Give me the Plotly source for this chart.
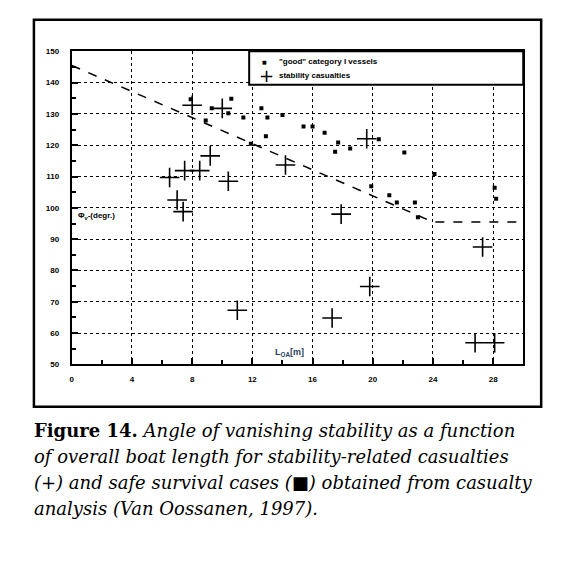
import plotly.graph_objects as go

# Angle of vanishing stability vs overall length
casualty_len = [6.5, 7.0, 7.4, 7.5, 8.0, 8.5, 9.2, 10.0, 10.4, 11.0, 14.2,
                17.3, 17.9, 19.6, 19.8, 26.8, 27.3, 28.1]
casualty_avs = [109.7, 102.5, 98.8, 111.9, 132.8, 111.9, 116.6, 131.8, 108.5,
                67.3, 113.7, 64.8, 98.0, 122.1, 74.9, 56.9, 87.5, 56.9]

good_len = [7.9, 8.9, 9.3, 10.4, 10.6, 11.4, 11.9, 12.6, 12.9, 13.0, 14.0,
            15.4, 16.0, 16.8, 17.5, 17.7, 18.5, 19.9, 20.4, 21.1, 21.6, 22.1,
            22.8, 23.0, 24.1, 28.1, 28.2]
good_avs = [134.7, 127.9, 131.8, 130.2, 134.9, 128.9, 120.5, 131.8, 122.9,
            128.9, 129.7, 126.0, 126.0, 124.0, 117.9, 120.9, 119.0, 106.9,
            121.9, 104.0, 101.7, 117.7, 101.7, 97.0, 110.8, 106.4, 102.9]

limit_len = [0, 24, 30]
limit_avs = [145.5, 95.5, 95.5]

x_ticks = [0, 4, 8, 12, 16, 20, 24, 28]
y_ticks = [50, 60, 70, 80, 90, 100, 110, 120, 130, 140, 150]

legend_labels = ['"good" category I vessels', "stability casualties"]

caption_lines = [
    "<b>Figure 14.</b> <i>Angle of vanishing stability as a function</i>",
    "<i>of overall boat length for stability-related casualties</i>",
    "<i>(+) and safe survival cases (■) obtained from casualty</i>",
    "<i>analysis (Van Oossanen, 1997).</i>",
]

W, H = 582, 573
OFF = 8  # page body margin of the browser


def px(v):
    return (v - OFF) / W


def py(v):
    return 1 - (v - OFF) / H


tick_font = dict(family="Liberation Sans", size=8, color="black", weight="bold")
small_bold = dict(family="Liberation Sans", size=8, color="black", weight="bold")

fig = go.Figure()

fig.add_trace(go.Scatter(
    x=limit_len, y=limit_avs, mode="lines", showlegend=False,
    line=dict(color="black", width=1.5, dash="dash"),
))
fig.add_trace(go.Scatter(
    x=good_len, y=good_avs, mode="markers", showlegend=False,
    name=legend_labels[0],
    marker=dict(symbol="square", size=4, color="black"),
))
fig.add_trace(go.Scatter(
    x=casualty_len, y=casualty_avs, mode="markers", showlegend=False,
    name=legend_labels[1],
    marker=dict(symbol="cross-thin", size=14,
                line=dict(color="black", width=1.6)),
))

axis_common = dict(
    showline=True, linecolor="black", linewidth=2, mirror=True,
    showgrid=True, gridcolor="black", gridwidth=1.3, griddash="dot",
    zeroline=False, ticks="inside", ticklen=6, tickwidth=2, tickcolor="black",
    tickfont=tick_font,
)

fig.update_xaxes(
    range=[0, 30], tickvals=x_ticks, domain=[px(70), px(523)],
    minor=dict(tickvals=[2, 6, 10, 14, 18, 22, 26], ticks="inside",
               ticklen=4, tickwidth=2, tickcolor="black", showgrid=False),
    ticklabelstandoff=6, **axis_common,
)
fig.update_yaxes(
    range=[50, 150], tickvals=y_ticks, domain=[py(366), py(48)],
    minor=dict(tickvals=[55, 65, 75, 85, 95, 105, 115, 125, 135, 145],
               ticks="inside", ticklen=4, tickwidth=2, tickcolor="black",
               showgrid=False),
    ticklabelstandoff=9, **axis_common,
)

# outer frame and legend box
fig.add_shape(type="rect", xref="paper", yref="paper",
              x0=px(32), x1=px(541), y0=py(409), y1=py(16),
              line=dict(color="black", width=2.5), layer="below")
fig.add_shape(type="rect", xref="paper", yref="paper",
              x0=px(248), x1=px(523), y0=py(82), y1=py(48),
              line=dict(color="black", width=2), fillcolor="white", layer="above")

# legend entries
fig.add_annotation(x=px(263), y=py(59), xref="paper", yref="paper",
                   xanchor="center", yanchor="middle",
                   text="■", showarrow=False,
                   font=dict(family="DejaVu Sans", size=5, color="black"))
fig.add_annotation(x=px(265), y=py(73), xref="paper", yref="paper",
                   xanchor="center", yanchor="middle",
                   text="+", showarrow=False,
                   font=dict(family="DejaVu Sans", size=18, color="black"))
for label, yy in zip(legend_labels, [58, 73]):
    fig.add_annotation(x=px(276), y=py(yy), xref="paper", yref="paper",
                       xanchor="left", yanchor="middle", text=label,
                       showarrow=False, font=small_bold)

fig.add_annotation(x=0.3, y=97.5, xref="x", yref="y", xanchor="left",
                   yanchor="middle", text="Φ<sub>v</sub>-(degr.)",
                   showarrow=False, font=small_bold)
fig.add_annotation(x=13.4, y=53.8, xref="x", yref="y", xanchor="left",
                   yanchor="middle", text="L<sub>OA</sub>[m]", showarrow=False,
                   font=dict(family="Liberation Sans", size=9, weight="bold"))

line_y = [433, 460, 486, 512]
for txt, yy in zip(caption_lines, line_y):
    fig.add_annotation(x=px(30), y=py(yy), xref="paper", yref="paper",
                       xanchor="left", yanchor="middle", text=txt,
                       showarrow=False,
                       font=dict(family="DejaVu Serif", size=18,
                                 color="black"))

fig.update_layout(
    width=W, height=H, margin=dict(l=0, r=0, t=0, b=0),
    paper_bgcolor="white", plot_bgcolor="white",
    showlegend=False,
)

fig.write_html("out.html")
